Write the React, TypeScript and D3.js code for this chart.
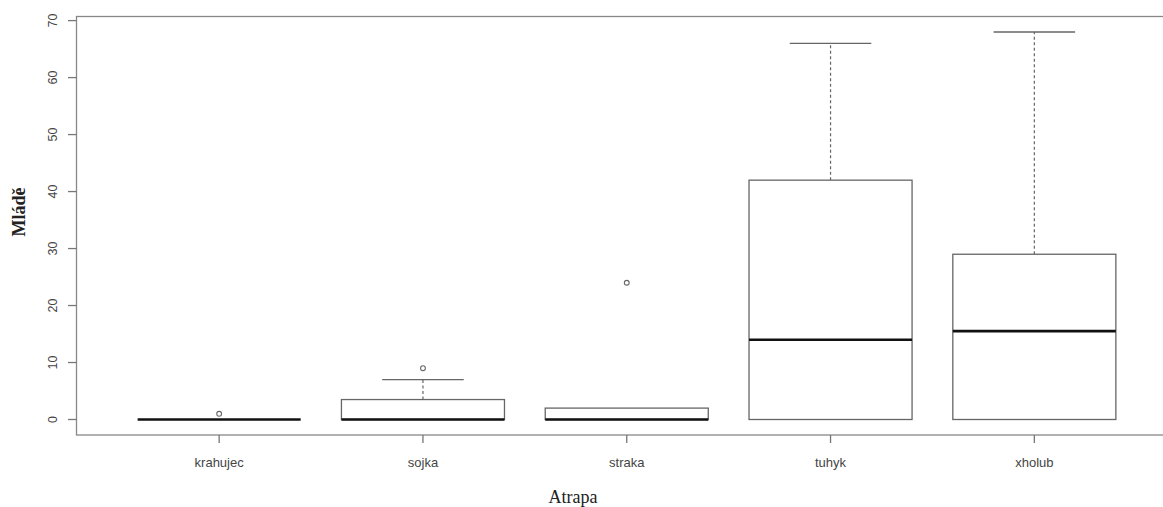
import React from 'react';
import * as d3 from 'd3';

// boxplot stats
const categories = ['krahujec', 'sojka', 'straka', 'tuhyk', 'xholub'];
const whiskerLow = [0, 0, 0, 0, 0];
const q1 = [0, 0, 0, 0, 0];
const medians = [0, 0, 0, 14, 15.5];
const q3 = [0, 3.5, 2, 42, 29];
const whiskerHigh = [0, 7, 2, 66, 68];
const outliers = [[1], [9], [24], [], []];
const yTicks = [0, 10, 20, 30, 40, 50, 60, 70];

const W = 1163;
const H = 507;
const plot = { left: 76.5, right: 1177, top: 16.5, bottom: 435 };
const lineColor = '#666';

const App = () => {
  const x = d3.scaleLinear().domain([0.3, 5.7]).range([plot.left, plot.right]);
  const y = d3.scaleLinear().domain([-2.72, 70.72]).range([plot.bottom, plot.top]);
  const boxHalf = x(1.4) - x(1);
  const capHalf = x(1.2) - x(1);

  return (
    <svg width={W} height={H} style={{ position: 'absolute', left: 0, top: 0, background: '#fff' }}>
      {/* frame */}
      <rect x={plot.left} y={plot.top} width={plot.right - plot.left} height={plot.bottom - plot.top}
        fill="none" stroke="#888" strokeWidth={1.3} />

      {/* y axis */}
      {yTicks.map(t => (
        <g key={t}>
          <line x1={plot.left - 8.5} x2={plot.left} y1={y(t)} y2={y(t)} stroke="#777" strokeWidth={1.3} />
          <text transform={`translate(57,${y(t)}) rotate(-90)`} textAnchor="middle"
            fontFamily="Liberation Sans, Arial, sans-serif" fontSize={12.5} fill="#444">{t}</text>
        </g>
      ))}

      {/* x axis */}
      {categories.map((c, i) => (
        <g key={c}>
          <line x1={x(i + 1)} x2={x(i + 1)} y1={plot.bottom} y2={plot.bottom + 8} stroke="#777" strokeWidth={1.3} />
          <text x={x(i + 1)} y={467} textAnchor="middle"
            fontFamily="Liberation Sans, Arial, sans-serif" fontSize={13} fill="#444">{c}</text>
        </g>
      ))}

      {/* boxes */}
      {categories.map((c, i) => {
        const cx = x(i + 1);
        return (
          <g key={c}>
            {whiskerHigh[i] > q3[i] && (
              <>
                <line x1={cx} x2={cx} y1={y(q3[i])} y2={y(whiskerHigh[i])} stroke={lineColor}
                  strokeWidth={1.2} strokeDasharray="3,2.5" />
                <line x1={cx - capHalf} x2={cx + capHalf} y1={y(whiskerHigh[i])} y2={y(whiskerHigh[i])}
                  stroke={lineColor} strokeWidth={1.3} />
              </>
            )}
            {whiskerLow[i] < q1[i] && (
              <line x1={cx} x2={cx} y1={y(q1[i])} y2={y(whiskerLow[i])} stroke={lineColor}
                strokeWidth={1.2} strokeDasharray="3,2.5" />
            )}
            <rect x={cx - boxHalf} y={y(q3[i])} width={boxHalf * 2} height={y(q1[i]) - y(q3[i])}
              fill="#fff" stroke={lineColor} strokeWidth={1.3} />
            <line x1={cx - boxHalf} x2={cx + boxHalf} y1={y(medians[i])} y2={y(medians[i])}
              stroke="#111" strokeWidth={2.6} />
            {outliers[i].map((o, j) => (
              <circle key={j} cx={cx} cy={y(o)} r={2.4} fill="none" stroke={lineColor} strokeWidth={1.1} />
            ))}
          </g>
        );
      })}

      {/* axis titles */}
      <text x={573} y={503} textAnchor="middle" fontFamily="Liberation Serif, Times New Roman, serif"
        fontSize={18} fill="#222">Atrapa</text>
      <text transform="translate(25,212) rotate(-90)" textAnchor="middle"
        fontFamily="Liberation Serif, Times New Roman, serif" fontSize={18} fontWeight="bold" fill="#222">Mládě</text>
    </svg>
  );
};

export default App;
